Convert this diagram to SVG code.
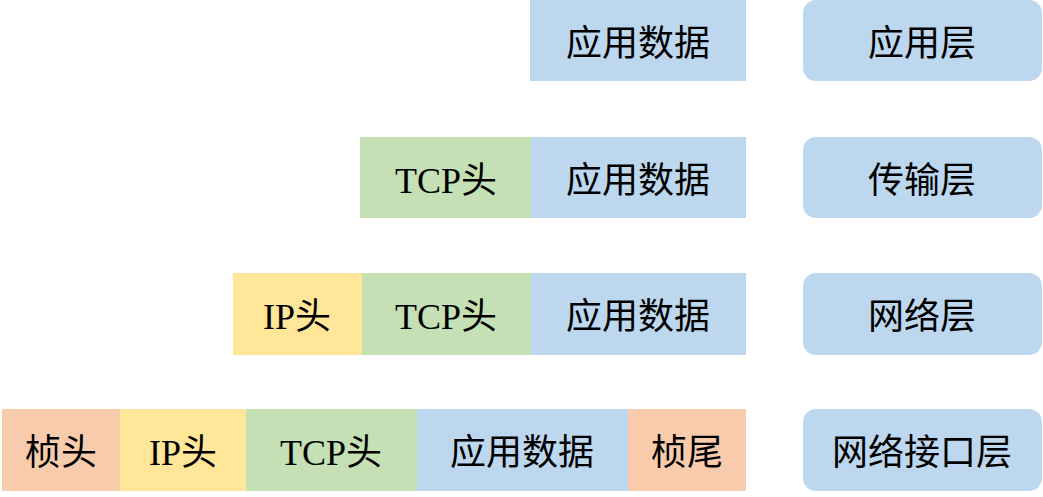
<svg xmlns="http://www.w3.org/2000/svg" width="1043" height="497" viewBox="0 0 1043 497">
<style>
text{font-family:"Liberation Serif","Noto Sans CJK SC",serif;font-size:36px;fill:#000;text-anchor:middle}
.b{fill:#BDD7EE}.g{fill:#C5E0B4}.y{fill:#FFE699}.o{fill:#F8CBAD}
</style>
<rect width="1043" height="497" fill="#fff"/>
<g id="row1">
<g id="r1-data"><rect class="b" x="530" y="0" width="216" height="81"/><text x="638" y="56">应用数据</text></g>
</g>
<g id="row2">
<g id="r2-tcp"><rect class="g" x="360" y="137" width="172" height="81"/><text x="446" y="193">TCP头</text></g>
<g id="r2-data"><rect class="b" x="531" y="137" width="215" height="81"/><text x="638" y="193">应用数据</text></g>
</g>
<g id="row3">
<g id="r3-ip"><rect class="y" x="233" y="273" width="129" height="82"/><text x="297" y="329">IP头</text></g>
<g id="r3-tcp"><rect class="g" x="362" y="273" width="170" height="82"/><text x="446" y="329">TCP头</text></g>
<g id="r3-data"><rect class="b" x="531" y="273" width="215" height="82"/><text x="638" y="329">应用数据</text></g>
</g>
<g id="row4">
<g id="r4-fh"><rect class="o" x="2" y="409" width="118" height="82"/><text x="61" y="465">桢头</text></g>
<g id="r4-ip"><rect class="y" x="120" y="409" width="126" height="82"/><text x="183" y="465">IP头</text></g>
<g id="r4-tcp"><rect class="g" x="246" y="409" width="171" height="82"/><text x="331" y="465">TCP头</text></g>
<g id="r4-data"><rect class="b" x="417" y="409" width="211" height="82"/><text x="522" y="465">应用数据</text></g>
<g id="r4-ft"><rect class="o" x="628" y="409" width="118" height="82"/><text x="687" y="465">桢尾</text></g>
</g>
<g id="layer-app"><rect class="b" x="803" y="0" width="239" height="81" rx="13"/><text x="922" y="56">应用层</text></g>
<g id="layer-transport"><rect class="b" x="803" y="137" width="239" height="81" rx="13"/><text x="922" y="193">传输层</text></g>
<g id="layer-network"><rect class="b" x="803" y="273" width="239" height="82" rx="13"/><text x="922" y="329">网络层</text></g>
<g id="layer-link"><rect class="b" x="803" y="409" width="239" height="82" rx="13"/><text x="922" y="465">网络接口层</text></g>
<g id="connectors"></g>
</svg>
